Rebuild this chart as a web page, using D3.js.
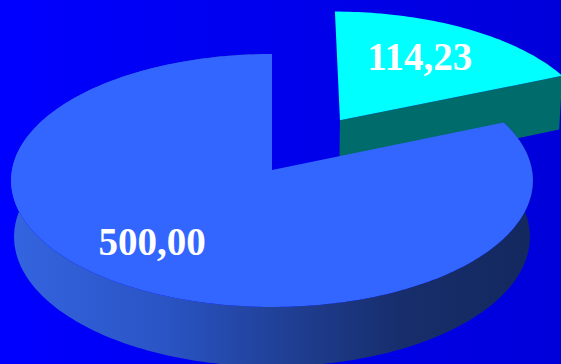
<!DOCTYPE html>
<html>
<head>
<meta charset="utf-8">
<script src="https://cdn.jsdelivr.net/npm/d3@7"></script>
<style>
  html, body { margin: 0; padding: 0; background: #0000ee; }
  svg { display: block; }
</style>
</head>
<body>
<svg id="chart" width="561" height="364"></svg>
<script>
// Slice data
const categories = ["Teil A", "Teil B"];
const values = [114.23, 500.00];
const topColors = ["#00FFFF", "#3366FF"];
const sideColors = ["#006B6B", "#3366FF"];
const explode = [0.49, 0];

const W = 561, H = 364;
const svg = d3.select("#chart");
const defs = svg.append("defs");

// Background gradient
const bg = defs.append("linearGradient").attr("id", "bg")
  .attr("x1", "0%").attr("x2", "100%").attr("y1", "0%").attr("y2", "0%");
bg.append("stop").attr("offset", "0%").attr("stop-color", "#0000FF");
bg.append("stop").attr("offset", "100%").attr("stop-color", "#0000DA");
svg.append("rect").attr("width", W).attr("height", H).attr("fill", "url(#bg)");

// Side wall shading, lighter on the left, darker on the right
const wallGrad = defs.append("linearGradient").attr("id", "wall")
  .attr("gradientUnits", "userSpaceOnUse")
  .attr("x1", 11).attr("x2", 533).attr("y1", 0).attr("y2", 0);
[[0, "#3464E0"], [0.3, "#2A54C4"], [0.55, "#1F3D90"], [0.75, "#172E6C"], [1, "#13285E"]]
  .forEach(([o, c]) => wallGrad.append("stop").attr("offset", o).attr("stop-color", c));

// Perspective camera for the tilted disc (unit radius)
const cx = 272, cy = 170;
const F = 2743, D = 10.55;
const sinA = 0.483, cosA = 0.875;
const thick = 0.25;

function project(x, y, z) {
  const depth = D - (y * sinA + z * cosA);
  return [cx + F * x / depth, cy - F * (y * cosA - z * sinA) / depth];
}
// angle measured clockwise from the far side (12 o'clock); e = explode distance along mid angle
function pt(theta, r, y, e, mid) {
  const x = r * Math.sin(theta) + e * Math.sin(mid);
  const z = -r * Math.cos(theta) - e * Math.cos(mid);
  return project(x, y, z);
}

const pie = d3.pie().sort(null).value(d => d)(values);
const fmt = d3.formatLocale({ decimal: ",", thousands: ".", grouping: [3], currency: ["", ""] }).format(".2f");
const line = d3.line();

function arcPoints(a0, a1, y, e, mid) {
  const n = Math.max(8, Math.ceil(Math.abs(a1 - a0) / 0.02));
  const pts = [];
  for (let i = 0; i <= n; i++) {
    const t = a0 + (a1 - a0) * i / n;
    pts.push(pt(t, 1, y, e, mid));
  }
  return pts;
}

const layer = svg.append("g");

// Exploded slice first (it sits behind), then the large one
pie.forEach((s, i) => {
  const a0 = s.startAngle, a1 = s.endAngle;
  const mid = (a0 + a1) / 2;
  const e = explode[i];
  const g = layer.append("g");

  if (e > 0) {
    // front-facing radial cut face
    const poly = [pt(a1, 0, 0, e, mid), pt(a1, 1, 0, e, mid), pt(a1, 1, -thick, e, mid), pt(a1, 0, -thick, e, mid)];
    g.append("path").attr("d", line(poly) + "Z").attr("fill", sideColors[i]);
  } else {
    // outer curved wall
    const top = arcPoints(a0, a1, 0, e, mid);
    const bot = arcPoints(a0, a1, -thick, e, mid).reverse();
    g.append("path").attr("d", line(top.concat(bot)) + "Z").attr("fill", "url(#wall)");
  }

  // top face
  const face = [pt(a0, 0, 0, e, mid)].concat(arcPoints(a0, a1, 0, e, mid));
  g.append("path").attr("d", line(face) + "Z").attr("fill", topColors[i]);
});

// Value labels
const labelR = [0.62, 0.79];
const labelDy = [8, -3];
pie.forEach((s, i) => {
  const mid = (s.startAngle + s.endAngle) / 2;
  const [x, y] = pt(mid, labelR[i], 0, explode[i], mid);
  svg.append("text")
    .attr("x", x).attr("y", y + labelDy[i])
    .attr("text-anchor", "middle")
    .attr("font-family", "'Liberation Serif', 'Times New Roman', serif")
    .attr("font-weight", "bold")
    .attr("font-size", 39)
    .attr("fill", "#FFFFFF")
    .text(fmt(values[i]));
});
</script>
</body>
</html>
